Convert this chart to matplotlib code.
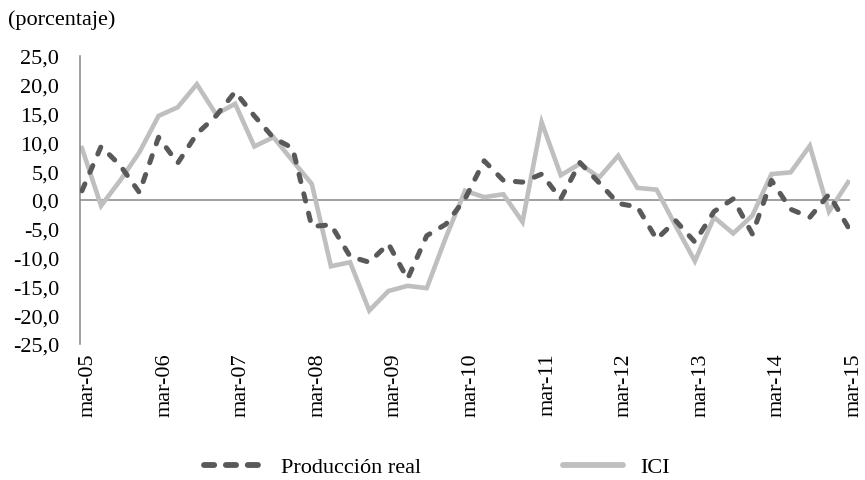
import matplotlib
matplotlib.use("Agg")
import matplotlib.pyplot as plt
import matplotlib.transforms as mtransforms
from matplotlib.lines import Line2D

plt.rcParams["font.family"] = ["Liberation Serif", "DejaVu Serif"]

# quarterly series, mar-05 .. mar-15
produccion_real = [
    1.6, 9.3, 6.0, 1.3, 10.9, 6.4, 11.5, 14.6, 18.8, 14.6, 10.8,
    9.0, -4.6, -4.3, -9.8, -10.8, -7.6, -13.7, -6.2, -4.2, 0.2,
    6.8, 3.4, 3.1, 4.5, 0.2, 6.5, 3.0, -0.6, -1.2, -6.8,
    -3.6, -7.3, -2.0, 0.2, -5.9, 3.4, -1.6, -3.0, 1.0, -4.7,
]
ici = [
    9.0, -1.0, 3.4, 8.3, 14.6, 16.1, 20.1, 14.9, 16.7, 9.3, 10.9,
    6.8, 2.8, -11.5, -10.8, -19.2, -15.8, -14.9, -15.3, -6.5, 1.6,
    0.5, 1.0, -3.8, 13.5, 4.3, 6.3, 3.9, 7.7, 2.1, 1.8,
    -4.5, -10.6, -3.0, -5.8, -2.7, 4.5, 4.8, 9.4, -2.0, 3.1,
]
tick_labels = ["mar-05", "mar-06", "mar-07", "mar-08", "mar-09", "mar-10",
               "mar-11", "mar-12", "mar-13", "mar-14", "mar-15"]
y_ticks = [25, 20, 15, 10, 5, 0, -5, -10, -15, -20, -25]

dark = "#595959"
light = "#bfbfbf"
axis_gray = "#868686"
fs = 16

fig = plt.figure(figsize=(8.65, 4.81), dpi=100)
ax = fig.add_axes([0.0925, 0.2827, 0.8902, 0.5988])

x = list(range(len(ici)))
ax.plot(x, produccion_real, color=dark, lw=3.6, dashes=(1.5, 2.5),
        dash_capstyle="round", solid_joinstyle="round", zorder=3)
ax.plot(x, ici, color=light, lw=3.3, solid_joinstyle="miter", zorder=2)
ax.axhline(0, color=axis_gray, lw=1.1, zorder=1)

ax.set_xlim(-0.1, 40.1)
ax.set_ylim(-25, 25)
ax.set_yticks(y_ticks)
ax.set_yticklabels(["{:.1f}".format(v).replace(".", ",") for v in y_ticks],
                   fontsize=fs)
ax.set_xticks(range(0, 41, 4))
ax.set_xticklabels(tick_labels, rotation=90, fontsize=fs)
ax.tick_params(axis="both", length=0)
ax.tick_params(axis="y", pad=15)
ax.tick_params(axis="x", pad=6)

# the category labels sit a little right of their points
shift = mtransforms.ScaledTranslation(6 / 100, 0, fig.dpi_scale_trans)
for lbl in ax.get_xticklabels():
    lbl.set_transform(lbl.get_transform() + shift)

for side in ["top", "right", "bottom"]:
    ax.spines[side].set_visible(False)
ax.spines["left"].set_color(axis_gray)
ax.spines["left"].set_linewidth(1.1)

fig.text(0.009, 0.958, "(porcentaje)", fontsize=fs, va="center", ha="left")

handles = [
    Line2D([], [], color=dark, lw=4.2, dashes=(1.75, 2.0), dash_capstyle="round"),
    Line2D([], [], color=light, lw=4.2, solid_capstyle="round"),
]
fig.legend(handles, ["Producción real", "ICI"], loc="center",
           bbox_to_anchor=(0.505, 0.027), ncol=2, frameon=False, fontsize=fs,
           handlelength=2.7, columnspacing=6.4, handletextpad=0.75)

fig.savefig("out.png", dpi=100)
